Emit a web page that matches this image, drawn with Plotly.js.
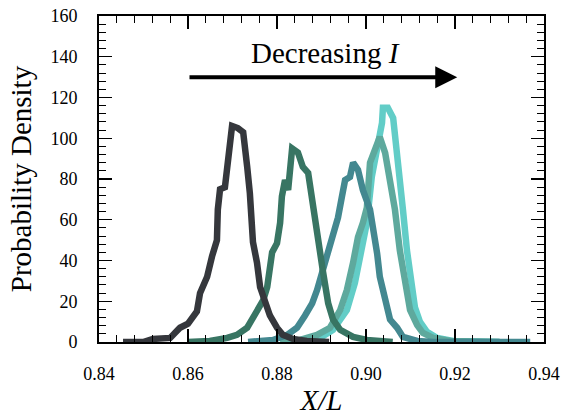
<!DOCTYPE html>
<html>
<head>
<meta charset="utf-8">
<script src="https://cdn.plot.ly/plotly-3.0.1.min.js"></script>
<style>html,body{margin:0;padding:0;background:#fff;}#chart{width:561px;height:416px;}</style>
</head>
<body>
<div id="chart"></div>
<script>
// Curve 1 (largest I, dark)
const x1 = [0.8454,0.8499,0.8521,0.8560,0.8571,0.8582,0.8600,0.8620,0.8627,0.8643,0.8654,0.8665,0.8667,0.8672,0.8683,0.8690,0.8699,0.8712,0.8724,0.8733,0.8739,0.8746,0.8755,0.8762,0.8773,0.8784,0.8800,0.8813,0.8836,0.8867,0.8917];
const y1 = [0,0,1.5,2,4.5,7,9,15,24,32,42,50,65,75,76,91,106,105,103,86,73,49,39,27,19,13,7,3.5,1.5,0.5,0];
// Curve 2 (dark green)
const x2 = [0.8600,0.8649,0.8688,0.8710,0.8733,0.8755,0.8769,0.8778,0.8789,0.8800,0.8807,0.8811,0.8818,0.8825,0.8834,0.8847,0.8858,0.8870,0.8881,0.8892,0.8903,0.8915,0.8926,0.8942,0.8971,0.9002,0.9060];
const y2 = [0,0.5,2,3.5,7,15,20.5,27,44,48.5,58.5,71.5,79.5,74.6,95,93,86,83,65,48.5,35,19,11,6,2.5,1,0];
// Curve 3 (teal blue)
const x3 = [0.8735,0.8791,0.8823,0.8845,0.8863,0.8879,0.8890,0.8901,0.8912,0.8926,0.8937,0.8946,0.8953,0.8964,0.8971,0.8982,0.8993,0.9009,0.9016,0.9025,0.9031,0.9043,0.9054,0.9070,0.9083,0.9115,0.9151,0.9369];
const y3 = [0,1,3.5,7,13,19,25.5,34,43.5,55,61,71.5,79.5,81,88,84.5,74.6,65,56.5,43.5,32,20.5,11,7,2.5,0.5,0,0];
// Curve 4 (grey teal)
const x4 = [0.8807,0.8852,0.8890,0.8919,0.8942,0.8957,0.8971,0.8982,0.8993,0.9002,0.9009,0.9020,0.9031,0.9043,0.9054,0.9065,0.9076,0.9088,0.9099,0.9115,0.9128,0.9151,0.9189,0.9300];
const y4 = [0,1,3.5,7,15.7,25.5,39,51.5,58.5,66,88,94,100.6,92.8,79.5,65,45,27,15.7,8.3,4.4,2,0.5,0];
// Curve 5 (smallest I, turquoise)
const x5 = [0.8852,0.8897,0.8926,0.8957,0.8975,0.8991,0.9002,0.9013,0.9025,0.9036,0.9038,0.9049,0.9061,0.9070,0.9076,0.9083,0.9092,0.9103,0.9110,0.9121,0.9137,0.9160,0.9196,0.9300];
const y5 = [0,2,6,15.7,29,45,58.5,81,94,107.5,115,115,110,94,81,65,45,29,17,10,5,2,0.5,0];

const xTickVals = [0.84,0.86,0.88,0.90,0.92,0.94];
const xTickText = ["0.84","0.86","0.88","0.90","0.92","0.94"];
const yTickVals = [0,20,40,60,80,100,120,140,160];
const yTickText = ["0","20","40","60","80","100","120","140","160"];

const colors = ["#35373c","#387563","#438890","#5ea99d","#62cdc7"];
const xs = [x1,x2,x3,x4,x5];
const ys = [y1,y2,y3,y4,y5];

const traces = [];
for (let i = 4; i >= 0; i--) {
  traces.push({x: xs[i], y: ys[i], type: 'scatter', mode: 'lines',
    line: {color: colors[i], width: 6.5}, showlegend: false, hoverinfo: 'none', cliponaxis: false});
}

const fam = '"Liberation Serif", "Times New Roman", serif';
const axisCommon = {
  showgrid: false, zeroline: false, showline: true, linecolor: '#000', linewidth: 2,
  mirror: 'ticks', ticks: 'inside', ticklen: 13, tickwidth: 1.2, tickcolor: '#000',
  tickfont: {family: fam, size: 18, color: '#000'}
};

const layout = {
  width: 561, height: 416,
  margin: {l: 99, r: 17, t: 16, b: 74, pad: 0},
  paper_bgcolor: '#fff', plot_bgcolor: '#fff',
  font: {family: fam, color: '#000'},
  xaxis: Object.assign({}, axisCommon, {
    range: [0.84, 0.94], tickvals: xTickVals, ticktext: xTickText,
    ticklabelstandoff: 14,
    minor: {dtick: 0.004, ticks: 'inside', ticklen: 7, tickwidth: 1, tickcolor: '#000'},
    title: {text: '<i>X/L</i>', font: {family: fam, size: 29, color: '#000'}, standoff: 14}
  }),
  yaxis: Object.assign({}, axisCommon, {
    range: [0, 160], tickvals: yTickVals, ticktext: yTickText,
    ticklabelstandoff: 16,
    minor: {dtick: 4, ticks: 'inside', ticklen: 7, tickwidth: 1, tickcolor: '#000'},
    title: {text: 'Probability Density', font: {family: fam, size: 29, color: '#000'}, standoff: 10}
  }),
  annotations: [
    {x: 0.9205, y: 130, ax: 0.86, ay: 130, xref: 'x', yref: 'y', axref: 'x', ayref: 'y',
     showarrow: true, arrowhead: 2, arrowsize: 1.1, arrowwidth: 4, arrowcolor: '#000', text: ''},
    {x: 0.8908, y: 142, xref: 'x', yref: 'y', showarrow: false,
     text: 'Decreasing <i>I</i>', font: {family: fam, size: 29, color: '#000'}}
  ]
};

Plotly.newPlot('chart', traces, layout, {displayModeBar: false, staticPlot: true});
</script>
</body>
</html>
